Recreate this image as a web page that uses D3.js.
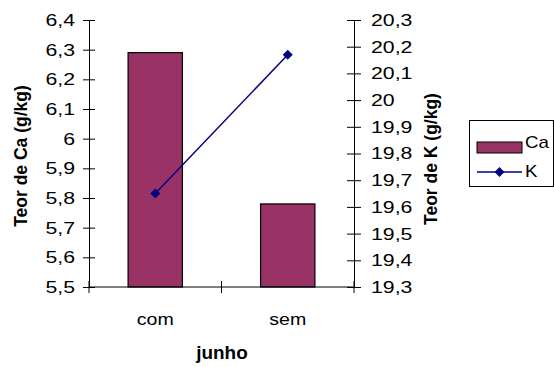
<!DOCTYPE html>
<html>
<head>
<meta charset="utf-8">
<script src="https://cdn.jsdelivr.net/npm/d3@7"></script>
<style>
  body { margin: 0; background: #fff; }
  svg { display: block; font-family: "Liberation Sans", Arial, sans-serif; }
</style>
</head>
<body>
<svg id="chart" width="554" height="367"></svg>
<script>
// Data
const categories = ["com", "sem"];
const caValues = [6.29, 5.78];        // Teor de Ca (g/kg) – bars
const kValues = [19.65, 20.17];       // Teor de K (g/kg) – line
const caTicks = [5.5, 5.6, 5.7, 5.8, 5.9, 6.0, 6.1, 6.2, 6.3, 6.4];
const kTicks = [19.3, 19.4, 19.5, 19.6, 19.7, 19.8, 19.9, 20.0, 20.1, 20.2, 20.3];

const svg = d3.select("#chart");
const plot = { left: 89, right: 354, top: 20, bottom: 287 };
const fmt = v => String(+v.toFixed(1)).replace(".", ",");

// Widen a text element horizontally by factor k
function widen(sel, k) {
  sel.each(function () {
    const len = this.getComputedTextLength();
    d3.select(this).attr("textLength", len * k).attr("lengthAdjust", "spacingAndGlyphs");
  });
}

const x = d3.scaleBand().domain(categories).range([plot.left, plot.right]).paddingInner(0).paddingOuter(0);
const yCa = d3.scaleLinear().domain([5.5, 6.4]).range([plot.bottom, plot.top]);
const yK = d3.scaleLinear().domain([19.3, 20.3]).range([plot.bottom, plot.top]);

const barColor = "#993366";
const lineColor = "#000080";
const barW = x.bandwidth() * 0.41;

// Bars (Ca)
svg.append("g").selectAll("rect")
  .data(categories)
  .join("rect")
  .attr("x", (d) => x(d) + x.bandwidth() / 2 - barW / 2)
  .attr("y", (d, i) => yCa(caValues[i]))
  .attr("width", barW)
  .attr("height", (d, i) => yCa(5.5) - yCa(caValues[i]))
  .attr("fill", barColor)
  .attr("stroke", "#000")
  .attr("stroke-width", 1.2);

// Axes
const axisStyle = g => {
  g.select(".domain").attr("stroke", "#000");
  g.selectAll(".tick line").attr("stroke", "#000");
  g.selectAll(".tick text").attr("font-size", 17).attr("fill", "#000");
};

const leftAxis = svg.append("g")
  .attr("transform", `translate(${plot.left},0)`)
  .call(d3.axisLeft(yCa).tickValues(caTicks).tickFormat(fmt).tickSize(6).tickSizeOuter(0).tickPadding(8))
  .call(axisStyle);
leftAxis.selectAll(".tick line").attr("x2", 6).attr("x1", -6);
widen(leftAxis.selectAll(".tick text"), 1.25);

const rightAxis = svg.append("g")
  .attr("transform", `translate(${plot.right},0)`)
  .call(d3.axisRight(yK).tickValues(kTicks).tickFormat(fmt).tickSize(7).tickSizeOuter(0).tickPadding(10))
  .call(axisStyle);
rightAxis.selectAll(".tick line").attr("x1", -7).attr("x2", 7);
widen(rightAxis.selectAll(".tick text"), 1.25);

// Category axis with boundary ticks between categories
const bottom = svg.append("g");
bottom.append("line")
  .attr("x1", plot.left).attr("x2", plot.right)
  .attr("y1", plot.bottom).attr("y2", plot.bottom)
  .attr("stroke", "#000");
const bounds = [x(categories[0]), x(categories[1]), x(categories[1]) + x.bandwidth()];
bottom.selectAll("line.b")
  .data(bounds)
  .join("line")
  .attr("class", "b")
  .attr("x1", d => d).attr("x2", d => d)
  .attr("y1", plot.bottom - 6).attr("y2", plot.bottom + 6)
  .attr("stroke", "#000");
const catLabels = bottom.selectAll("text")
  .data(categories)
  .join("text")
  .attr("x", d => x(d) + x.bandwidth() / 2)
  .attr("y", 325)
  .attr("text-anchor", "middle")
  .attr("font-size", 17)
  .text(d => d);
widen(catLabels, 1.15);

// K line
const cx = i => x(categories[i]) + x.bandwidth() / 2;
const line = d3.line()
  .x((d, i) => cx(i))
  .y(d => yK(d));
svg.append("path")
  .datum(kValues)
  .attr("d", line)
  .attr("fill", "none")
  .attr("stroke", lineColor)
  .attr("stroke-width", 1.5);
const diamond = d3.symbol().type(d3.symbolSquare).size(50);
svg.append("g").selectAll("path")
  .data(kValues)
  .join("path")
  .attr("d", diamond)
  .attr("transform", (d, i) => `translate(${cx(i)},${yK(d)}) rotate(45)`)
  .attr("fill", lineColor);

// Axis titles
svg.append("text")
  .attr("transform", "translate(27,156) rotate(-90)")
  .attr("text-anchor", "middle")
  .attr("font-size", 17.5).attr("font-weight", "bold")
  .text("Teor de Ca (g/kg)");
svg.append("text")
  .attr("transform", "translate(437,159) rotate(-90)")
  .attr("text-anchor", "middle")
  .attr("font-size", 17.5).attr("font-weight", "bold")
  .text("Teor de K (g/kg)");
const xt = svg.append("text")
  .attr("x", 222).attr("y", 359)
  .attr("text-anchor", "middle")
  .attr("font-size", 17.5).attr("font-weight", "bold")
  .text("junho");
widen(xt, 1.08);

// Legend
const lg = svg.append("g");
lg.append("rect")
  .attr("x", 469.5).attr("y", 120.5).attr("width", 84).attr("height", 66)
  .attr("fill", "#fff").attr("stroke", "#000").attr("stroke-width", 1);
lg.append("rect")
  .attr("x", 477).attr("y", 142).attr("width", 45).attr("height", 11)
  .attr("fill", barColor).attr("stroke", "#000").attr("stroke-width", 1);
widen(lg.append("text").attr("x", 525).attr("y", 148).attr("font-size", 17).text("Ca"), 1.1);
lg.append("line")
  .attr("x1", 477).attr("x2", 522).attr("y1", 172).attr("y2", 172)
  .attr("stroke", lineColor).attr("stroke-width", 1.5);
lg.append("path").attr("d", diamond).attr("transform", "translate(499.5,172) rotate(45)").attr("fill", lineColor);
widen(lg.append("text").attr("x", 525).attr("y", 177).attr("font-size", 17).text("K"), 1.1);
</script>
</body>
</html>
